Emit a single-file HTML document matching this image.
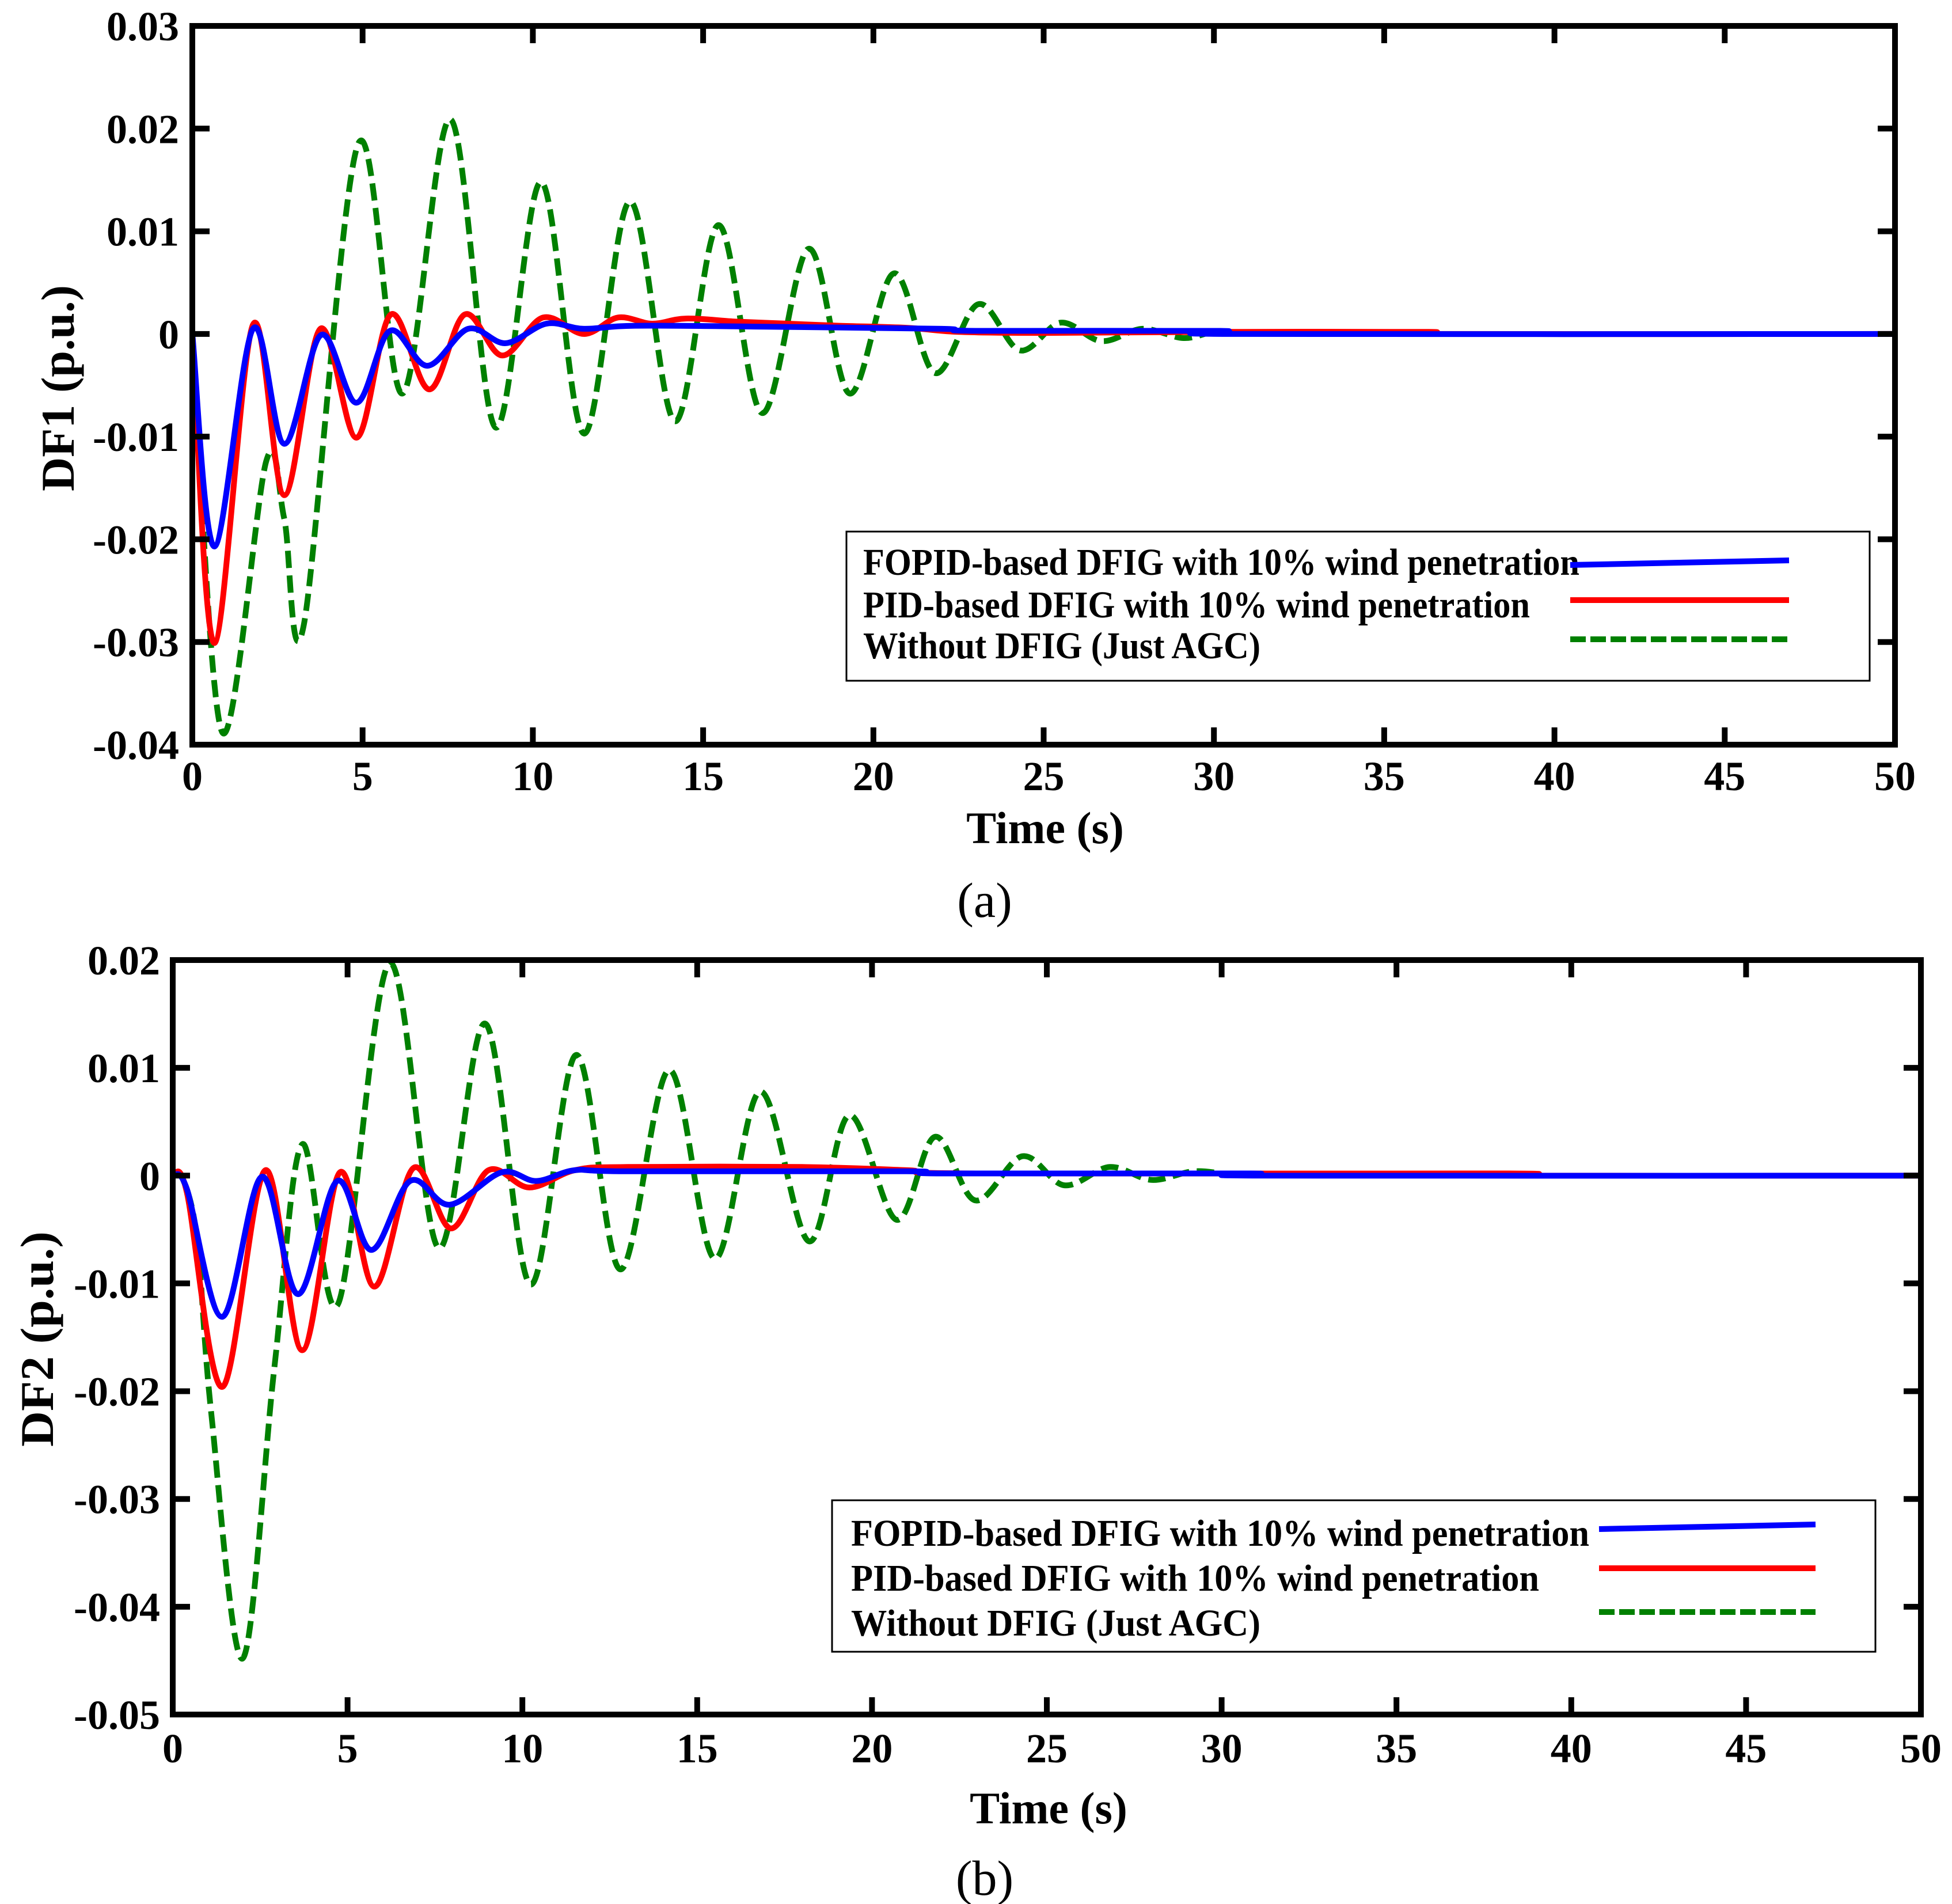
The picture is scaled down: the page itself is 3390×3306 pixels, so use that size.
<!DOCTYPE html>
<html><head><meta charset="utf-8"><style>
html,body{margin:0;padding:0;background:#fff;}
svg{display:block;font-family:"Liberation Serif","Times New Roman",serif;}
</style></head><body>
<svg id="fig" width="3390" height="3306" viewBox="0 0 3390 3306" xmlns="http://www.w3.org/2000/svg">
<rect x="0" y="0" width="3390" height="3306" fill="#fff"/>
<g id="chartA"></g>
<g id="chartB"></g>
</svg>
<script>
// ---------- data: panel (a) DF1 ----------
const xTicks = [0,5,10,15,20,25,30,35,40,45,50];
const yTicksA = [0.03,0.02,0.01,0,-0.01,-0.02,-0.03,-0.04];
const yTickLabelsA = ["0.03","0.02","0.01","0","-0.01","-0.02","-0.03","-0.04"];
const tGreenA = [0,0.88,2.17,2.7,3.27,4.87,6.17,7.58,8.9,10.24,11.5,12.85,14.17,15.45,16.73,18.1,19.3,20.6,21.8,23.08,24.3,25.5,26.7,27.9,29.1,30.0,30.8];
const vGreenA = [0,-0.0388,-0.0124,-0.0180,-0.0284,0.0185,-0.0058,0.0209,-0.0091,0.0148,-0.0097,0.0129,-0.0085,0.0106,-0.0077,0.0083,-0.0058,0.0059,-0.0038,0.0029,-0.0016,0.0011,-0.0007,0.0005,-0.0004,0.0002,0.0001];
const tRedA = [0,0.65,1.78,2.7,3.76,4.83,5.83,6.96,8.0,9.1,10.3,11.5,12.5,13.5,14.5,16,17.5,19,21,22.5,25,30,36.3,36.7,50];
const vRedA = [0,-0.0301,0.0009,-0.0157,0.0005,-0.0101,0.0019,-0.0054,0.0019,-0.0021,0.0016,0,0.0016,0.001,0.0015,0.0012,0.001,0.0008,0.0006,0.0002,0.0001,0.0002,0.0002,0,0];
const tBlueA = [0,0.65,1.78,2.7,3.78,4.82,5.8,6.9,8.1,9.2,10.4,11.5,13,17,22,23,30.2,30.6,50];
const vBlueA = [0,-0.0207,0.0005,-0.0107,-0.0001,-0.0067,0.0003,-0.0031,0.0005,-0.0009,0.001,0.0005,0.0008,0.0007,0.0005,0.0003,0.0003,0,0];
// ---------- data: panel (b) DF2 ----------
const yTicksB = [0.02,0.01,0,-0.01,-0.02,-0.03,-0.04,-0.05];
const yTickLabelsB = ["0.02","0.01","0","-0.01","-0.02","-0.03","-0.04","-0.05"];
const tGreenB = [0,0.3,0.7,1.1,2.0,2.9,3.7,4.73,6.2,7.6,8.94,10.23,11.54,12.8,14.2,15.5,16.8,18.2,19.35,20.7,21.8,22.95,24.3,25.5,26.8,28,29.2,30.3,31];
const vGreenB = [0,-0.0004,-0.006,-0.022,-0.0448,-0.018,0.0029,-0.0119,0.0197,-0.0067,0.0141,-0.0101,0.0112,-0.0087,0.0098,-0.0077,0.0078,-0.0061,0.0056,-0.0041,0.0036,-0.0023,0.0018,-0.0009,0.0008,-0.0004,0.0004,0.0001,0.0001];
const tRedB = [0,0.4,1.42,2.65,3.7,4.78,5.77,6.88,7.96,9.03,10.2,11.5,13,18,21,23,38.2,38.6,50];
const vRedB = [0,-0.0015,-0.0196,0.0005,-0.0162,0.0003,-0.0103,0.0007,-0.0049,0.0005,-0.0011,0.0005,0.0008,0.0008,0.0005,0.0002,0.0002,0,0];
const tBlueB = [0,0.4,1.42,2.55,3.58,4.7,5.68,6.79,7.92,9.4,10.4,11.5,13,21,22,30.8,31.2,50];
const vBlueB = [0,-0.0012,-0.0131,-0.0001,-0.011,-0.0005,-0.0069,-0.0005,-0.0027,0.0003,-0.0005,0.0005,0.0004,0.0004,0.0002,0.0002,0,0];
const legendLabels = ["FOPID-based DFIG with 10% wind penetration","PID-based DFIG with 10% wind penetration","Without DFIG (Just AGC)"];

const NS = "http://www.w3.org/2000/svg";
function mk(parent, tag, attrs){
  const e = document.createElementNS(NS, tag);
  for (const k in attrs) e.setAttribute(k, attrs[k]);
  parent.appendChild(e);
  return e;
}
function smoothPath(pts){
  let d = "M" + pts[0][0].toFixed(1) + " " + pts[0][1].toFixed(1);
  for (let i=0;i<pts.length-1;i++){
    const p0 = pts[Math.max(0,i-1)], p1 = pts[i], p2 = pts[i+1], p3 = pts[Math.min(pts.length-1,i+2)];
    const c1x = p1[0] + (p2[0]-p0[0])/6, c1y = p1[1] + (p2[1]-p0[1])/6;
    const c2x = p2[0] - (p3[0]-p1[0])/6, c2y = p2[1] - (p3[1]-p1[1])/6;
    d += " C" + c1x.toFixed(1)+" "+c1y.toFixed(1)+" "+c2x.toFixed(1)+" "+c2y.toFixed(1)+" "+p2[0].toFixed(1)+" "+p2[1].toFixed(1);
  }
  return d;
}

function drawPanel(g, cfg){
  const L=cfg.L, R=cfg.R, T=cfg.T, B=cfg.B;
  const xs = t => L + (t - 0) / 50 * (R - L);
  const ys = v => T + (cfg.ymax - v) / (cfg.ymax - cfg.ymin) * (B - T);
  const series = [
    {t:cfg.tg, v:cfg.vg, color:"#008000", dash:"30 13", name:"series-without-dfig"},
    {t:cfg.tr, v:cfg.vr, color:"#ff0000", dash:null, name:"series-pid-dfig"},
    {t:cfg.tb, v:cfg.vb, color:"#0000ff", dash:null, name:"series-fopid-dfig"}
  ];
  const clip = mk(g, "clipPath", {id: cfg.id + "clip"});
  mk(clip, "rect", {x:L, y:T, width:R-L, height:B-T});
  series.forEach(s=>{
    const pts = s.t.map((t,i)=>[xs(t), ys(s.v[i])]);
    const p = mk(g, "path", {d: smoothPath(pts), fill:"none", stroke:s.color, "stroke-width":10, "stroke-linejoin":"round", "clip-path":"url(#"+cfg.id+"clip)"});
    if (s.dash) p.setAttribute("stroke-dasharray", s.dash);
    
    
  });
  const box = mk(g, "rect", {x:L, y:T, width:R-L, height:B-T, fill:"none", stroke:"#000", "stroke-width":10});
  
  
  xTicks.forEach(t=>{
    const x = xs(t);
    mk(g, "line", {x1:x, y1:B, x2:x, y2:B-30, stroke:"#000", "stroke-width":10});
    mk(g, "line", {x1:x, y1:T, x2:x, y2:T+30, stroke:"#000", "stroke-width":10});
    const tx = mk(g, "text", {x:x, y:cfg.xLabY, "text-anchor":"middle", "font-size":72, "font-weight":"bold"});
    tx.textContent = String(t);
    
    
  });
  cfg.yt.forEach((v,i)=>{
    const y = ys(v);
    mk(g, "line", {x1:L, y1:y, x2:L+30, y2:y, stroke:"#000", "stroke-width":10});
    mk(g, "line", {x1:R, y1:y, x2:R-30, y2:y, stroke:"#000", "stroke-width":10});
    const tx = mk(g, "text", {x:cfg.yLabX, y:y+25, "text-anchor":"end", "font-size":72, "font-weight":"bold"});
    tx.textContent = cfg.ytl[i];
    
    
  });
  const xt = mk(g, "text", {x:cfg.xTitleX, y:cfg.xTitleY, "text-anchor":"middle", "font-size":78, "font-weight":"bold"});
  xt.textContent = "Time (s)";
  
  
  const yt = mk(g, "text", {x:0, y:0, "text-anchor":"middle", "font-size":82, "font-weight":"bold", transform:"translate("+cfg.yTitleX+","+cfg.yTitleY+") rotate(-90)", textLength:cfg.yTitleLen, lengthAdjust:"spacingAndGlyphs"});
  yt.textContent = cfg.yTitle;
  
  
  const cap = mk(g, "text", {x:1710, y:cfg.capY, "text-anchor":"middle", "font-size":86});
  cap.textContent = cfg.cap;
  
  
  const lg = mk(g, "g", {});
  
  
  const lb = cfg.leg;
  mk(lg, "rect", {x:lb.x, y:lb.y, width:lb.w, height:lb.h, fill:"#fff", stroke:"#000", "stroke-width":3});
  const colors = ["#0000ff","#ff0000","#008000"];
  const names = ["legend-entry-fopid","legend-entry-pid","legend-entry-without-dfig"];
  legendLabels.forEach((lab,i)=>{
    const tx = mk(lg, "text", {x:lb.tx, y:lb.base[i], "font-size":66, "font-weight":"bold", textLength:lb.tw[i], lengthAdjust:"spacingAndGlyphs"});
    tx.textContent = lab;
    
    
    const ln = mk(lg, "line", {x1:lb.lx1, y1:lb.ly[i] + (i===0?4:0), x2:lb.lx2, y2:lb.ly[i] - (i===0?4:0), stroke:colors[i], "stroke-width":10});
    if (i===2) ln.setAttribute("stroke-dasharray","27 8");
    
    
  });
}

drawPanel(document.getElementById("chartA"), {
  id:"a", L:334, R:3291, T:45, B:1293, ymax:0.03, ymin:-0.04,
  tg:tGreenA, vg:vGreenA, tr:tRedA, vr:vRedA, tb:tBlueA, vb:vBlueA,
  yt:yTicksA, ytl:yTickLabelsA, xLabY:1372, yLabX:311,
  xTitleX:1815, xTitleY:1464, yTitleX:128, yTitleY:674, yTitleLen:358, yTitle:"DF1 (p.u.)",
  cap:"(a)", capY:1592,
  leg:{x:1470, y:923, w:1777, h:259, tx:1499, base:[998,1072,1143], tw:[1244,1158,690], lx1:2727, lx2:3107, ly:[977,1042,1110]}
});
drawPanel(document.getElementById("chartB"), {
  id:"b", L:300, R:3336, T:1667, B:2977, ymax:0.02, ymin:-0.05,
  tg:tGreenB, vg:vGreenB, tr:tRedB, vr:vRedB, tb:tBlueB, vb:vBlueB,
  yt:yTicksB, ytl:yTickLabelsB, xLabY:3060, yLabX:278,
  xTitleX:1821, xTitleY:3166, yTitleX:92, yTitleY:2325, yTitleLen:374, yTitle:"DF2 (p.u.)",
  cap:"(b)", capY:3290,
  leg:{x:1445, y:2605, w:1812, h:263, tx:1478, base:[2684,2762,2840], tw:[1282,1195,711], lx1:2777, lx2:3153, ly:[2651,2723,2799]}
});
</script>
</body></html>
